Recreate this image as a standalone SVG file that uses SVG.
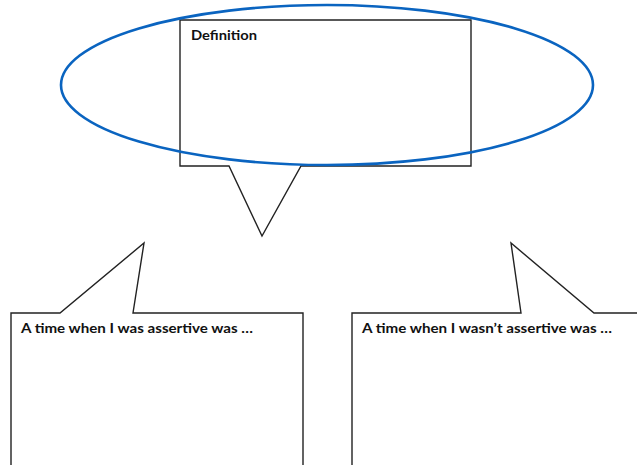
<svg xmlns="http://www.w3.org/2000/svg" width="637" height="465" viewBox="0 0 637 465">
<style>
.callout{fill:#fff;stroke:#222;stroke-width:1.4;stroke-linejoin:miter}
.lbl{font-family:Lato,"Open Sans","Liberation Sans",sans-serif;font-weight:bold;font-size:14px;fill:#111}
.ring{fill:none;stroke:#0a64c0;stroke-width:2.6}
</style>
<rect width="637" height="465" fill="#fff"/>
<g id="definition">
<path class="callout" d="M180,20 H471 V166 H301 L262,236 L229,166 H180 Z"/>
<text class="lbl" x="191" y="40" textLength="66" lengthAdjust="spacingAndGlyphs">Definition</text>
</g>
<g id="assertive">
<path class="callout" d="M11,313 H60 L144,243 L133,313 H303 V470 H11 Z"/>
<text class="lbl" x="21" y="333" textLength="232" lengthAdjust="spacingAndGlyphs">A time when I was assertive was …</text>
</g>
<g id="not-assertive">
<path class="callout" d="M352,313 H521 L511,243 L594,313 H645 V470 H352 Z"/>
<text class="lbl" x="362" y="333" textLength="250" lengthAdjust="spacingAndGlyphs">A time when I wasn’t assertive was …</text>
</g>
<g id="connectors">
<ellipse id="highlight" class="ring" cx="327" cy="85" rx="266" ry="80"/>
</g>
</svg>
